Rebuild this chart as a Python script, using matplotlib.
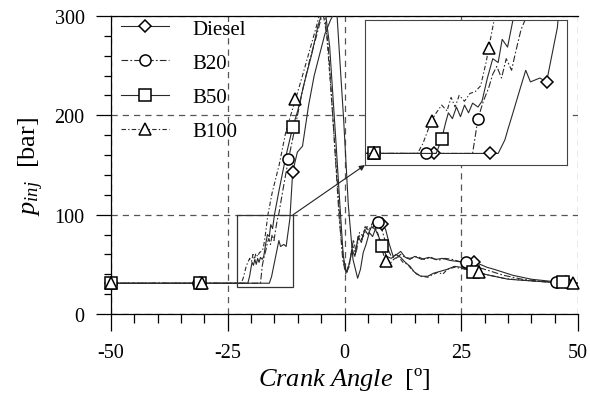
import numpy as np
import matplotlib
matplotlib.use('Agg')
import matplotlib.pyplot as plt
from matplotlib.lines import Line2D
from matplotlib.patches import Rectangle, ConnectionPatch

plt.rcParams['font.family'] = 'Liberation Serif'
plt.rcParams['mathtext.fontset'] = 'custom'
plt.rcParams['mathtext.it'] = 'Liberation Serif:italic'
plt.rcParams['mathtext.rm'] = 'Liberation Serif'
plt.rcParams['axes.unicode_minus'] = False

# injection pressure traces [bar] vs crank angle [deg]
diesel_angle = [-50, -16.1, -15.6, -15.35, -15.0, -14.4, -14.05, -13.7, -13.0, -12.5, -11.7,
                -11.1, -10.1, -9.0, -7.7, -6.5, -5.3, -4.2, -3.0, -2.2, -1.6, -1.0, -0.2, 0.8,
                1.8, 2.8, 3.4, 4.0, 4.6, 5.3, 6.0, 6.8, 7.6, 8.1, 8.8, 9.6, 10.4, 11.2, 12.0,
                13.0, 14.0, 15.0, 16.5, 18.0, 19.5, 21.0, 22.5, 24.0, 25.5, 27.6, 29.0, 30.5,
                32.0, 34.0, 36.0, 38.0, 40.0, 42.0, 44.0, 46.0, 48.0, 50.0]
diesel_p = [31, 31, 38, 44, 52, 66, 74, 68, 70, 68, 96,
            143, 163, 169, 210, 240, 262, 282, 296, 303, 300, 255, 196, 110,
            55, 36, 45, 62, 70, 82, 78, 88, 90, 91, 85, 70, 58, 60, 63,
            57, 55, 58, 55, 57, 55, 56, 54, 53, 52, 52, 50, 47,
            45, 42, 39, 37, 35, 34, 33, 32, 32, 31]

b20_angle = [-50, -18.0, -17.8, -17.6, -17.2, -16.8, -16.5, -16.2, -15.85, -15.5, -15.1, -14.85,
             -14.4, -14.1, -13.0, -12.0, -10.5, -9.0, -7.5, -6.0, -5.0, -4.3, -3.5, -2.8,
             -2.0, -1.2, -0.4, 0.3, 1.0, 1.7, 2.3, 3.0, 3.7, 4.4, 5.2, 6.0, 7.1, 8.0, 9.0,
             10.0, 11.0, 12.0, 13.0, 14.0, 15.5, 17.0, 18.5, 20.0, 21.5, 23.0, 24.5, 25.9,
             27.0, 28.5, 30.0, 32.0, 34.0, 36.0, 38.0, 40.0, 42.0, 45.2, 48.0, 50.0]
b20_p = [31, 31, 40, 49, 58, 65, 72, 76, 70, 80, 74, 82,
         95, 100, 130, 156, 190, 225, 255, 280, 298, 303, 270, 220,
         160, 100, 55, 40, 48, 70, 60, 80, 75, 88, 84, 92, 93, 85, 68,
         58, 56, 60, 57, 56, 58, 55, 57, 54, 56, 55, 53, 52,
         50, 47, 45, 42, 39, 37, 35, 34, 33, 32, 31, 31]

b50_angle = [-50, -20.7, -20.3, -20.0, -19.8, -19.5, -19.2, -18.9, -18.6, -18.3, -18.0, -17.6,
             -17.3, -16.9, -16.5, -16.1, -15.8, -15.4, -15.0, -14.0, -12.5, -11.1, -10.0,
             -8.5, -7.0, -5.7, -4.8, -4.0, -3.2, -2.5, -1.8, -1.0, -0.3, 0.3, 1.0, 1.6, 2.2,
             2.9, 3.6, 4.3, 5.0, 5.8, 6.6, 7.3, 8.1, 9.0, 10.0, 11.0, 12.0, 13.0, 14.0, 15.0,
             16.3, 17.8, 19.0, 20.5, 22.0, 23.5, 25.0, 26.0, 27.4, 29.0, 31.0, 33.0, 35.0,
             38.0, 41.0, 44.0, 46.7, 50.0]
b50_p = [31, 31, 38.5, 47, 52, 49, 55, 50, 56, 52, 57, 55,
         58, 70, 80, 78, 90, 86, 100, 125, 160, 188, 205,
         235, 262, 290, 303, 300, 270, 220, 170, 110, 60, 42, 50, 65, 58,
         78, 72, 85, 80, 88, 85, 78, 68, 58, 56, 60, 57, 52, 48, 42,
         38, 38, 41, 43, 45, 48, 47, 45, 42, 41, 39, 37, 35,
         34, 33, 32, 32, 31]

b100_angle = [-50, -22.1, -21.7, -21.05, -20.7, -20.3, -19.9, -19.6, -19.3, -19.0, -18.6, -18.2,
              -17.8, -17.4, -17.0, -16.8, -16.4, -15.5, -14.0, -12.5, -10.5, -9.0, -7.5, -6.0,
              -5.3, -4.5, -3.8, -3.0, -2.4, -1.5, -0.8, 0.0, 0.5, 1.2, 1.9, 2.5, 3.2, 4.0,
              4.8, 5.6, 6.4, 7.2, 8.0, 8.8, 9.6, 10.5, 11.5, 12.5, 13.5, 14.5, 15.5, 16.5,
              17.8, 19.0, 20.0, 21.0, 22.0, 23.5, 25.0, 26.5, 28.7, 30.0, 32.0, 34.0, 36.0,
              38.0, 41.0, 44.0, 48.8, 50.0]
b100_p = [31, 31, 36, 48, 52, 56, 53, 60, 55, 61, 58, 62,
          63, 66, 78, 85.5, 100, 122, 150, 185, 216, 240, 265, 290,
          303, 300, 280, 230, 190, 130, 80, 45, 42, 55, 75, 62, 82, 78,
          88, 85, 89, 80, 65, 53, 50, 55, 58, 52, 50, 44, 40, 38,
          37, 40, 42, 40, 45, 47, 46, 44, 42, 40, 38, 36, 35,
          34, 33, 32, 31, 31]

# marker positions (main plot and magnified view)
diesel_mk = [-50, -31.0, -11.1, 8.1, 27.6, 47.3]
b20_mk = [-50, -31.3, -12.0, 7.1, 25.9, 45.2]
b50_mk = [-50, -31.0, -11.1, 8.1, 27.4, 46.7]
b100_mk = [-50, -30.5, -10.5, 8.8, 28.7, 48.8]

diesel_mk_zoom = [-25.3, -20.9, -16.7, -12.5]
b20_mk_zoom = [-25.3, -21.5, -17.6]
b50_mk_zoom = [-25.3, -20.3]
b100_mk_zoom = [-25.3, -21.05, -16.8]

labels = ['Diesel', 'B20', 'B50', 'B100']
markers = ['D', 'o', 's', '^']
msizes = [6.5, 8, 8, 8]
styles = ['-', (0, (6, 2, 1.5, 2)), '-', (0, (4, 2, 1.2, 2))]

series = [(diesel_angle, diesel_p, diesel_mk, diesel_mk_zoom),
          (b20_angle, b20_p, b20_mk, b20_mk_zoom),
          (b50_angle, b50_p, b50_mk, b50_mk_zoom),
          (b100_angle, b100_p, b100_mk, b100_mk_zoom)]

line_col = '#2a2a2a'

fig = plt.figure(figsize=(5.9, 4.02), dpi=100)
ax = fig.add_axes([0.188, 0.2164, 0.792, 0.7413])

handles = []
for (ang, p, mk, mkz), lab, m, ms, ls in zip(series, labels, markers, msizes, styles):
    ax.plot(ang, p, ls=ls, color=line_col, lw=0.8, zorder=3)
    ax.plot(mk, np.interp(mk, ang, p), ls='none', marker=m, ms=ms, mfc='white',
            mec='black', mew=1.1, zorder=4, clip_on=False)
    handles.append(Line2D([], [], ls=ls, color=line_col, lw=0.8, marker=m, ms=ms,
                          mfc='white', mec='black', mew=1.1, label=lab))

ax.set_xlim(-50, 50)
ax.set_ylim(0, 300)
ax.set_xticks([-50, -25, 0, 25, 50])
ax.set_yticks([0, 100, 200, 300])
ax.set_xticks(np.arange(-50, 51, 5), minor=True)
ax.set_yticks(np.arange(0, 301, 20), minor=True)
ax.tick_params(axis='x', which='major', direction='out', length=12, width=0.9, pad=9, labelsize=14.5)
ax.tick_params(axis='x', which='minor', direction='out', length=6.5, width=0.9)
ax.tick_params(axis='y', which='major', direction='out', length=11, width=0.9, pad=8, labelsize=14.5)
ax.tick_params(axis='y', which='minor', direction='out', length=5, width=0.9)
ax.spines['right'].set_visible(False)
for s in ['left', 'bottom', 'top']:
    ax.spines[s].set_linewidth(0.9)
ax.grid(True, which='major', linestyle=(0, (5, 4)), color='#555555', lw=0.9)

ax.set_xlabel(r'$Crank\ Angle$  [º]', fontsize=19, labelpad=2)
ax.set_ylabel(r'$p_{inj}$  [bar]', fontsize=19, labelpad=6)

ax.legend(handles=handles, loc='upper left', bbox_to_anchor=(0.0, 1.025), frameon=False,
          fontsize=15, handlelength=2.3, handletextpad=1.1, labelspacing=0.7,
          borderaxespad=0.2, borderpad=0.3, numpoints=1)

# zoom rectangle
ax.add_patch(Rectangle((-23, 27), 12, 73, fill=False, ec='#333333', lw=0.9, zorder=5))

# magnified view of injection start
axins = fig.add_axes([0.6186, 0.587, 0.342, 0.3607])
for (ang, p, mk, mkz), m, ms, ls in zip(series, markers, msizes, styles):
    axins.plot(ang, p, ls=ls, color=line_col, lw=0.8)
    axins.plot(mkz, np.interp(mkz, ang, p), ls='none', marker=m, ms=ms, mfc='white',
               mec='black', mew=1.1)
axins.set_xlim(-26, -11)
axins.set_ylim(25, 100)
axins.set_xticks([])
axins.set_yticks([])
for s in axins.spines.values():
    s.set_linewidth(0.8)
    s.set_color('#444444')

con = ConnectionPatch(xyA=(-11, 100), coordsA=ax.transData,
                      xyB=(0, 0), coordsB=axins.transAxes,
                      arrowstyle='-|>', mutation_scale=8, color='#222222', lw=0.8)
fig.add_artist(con)

fig.savefig('out.png', dpi=100)
